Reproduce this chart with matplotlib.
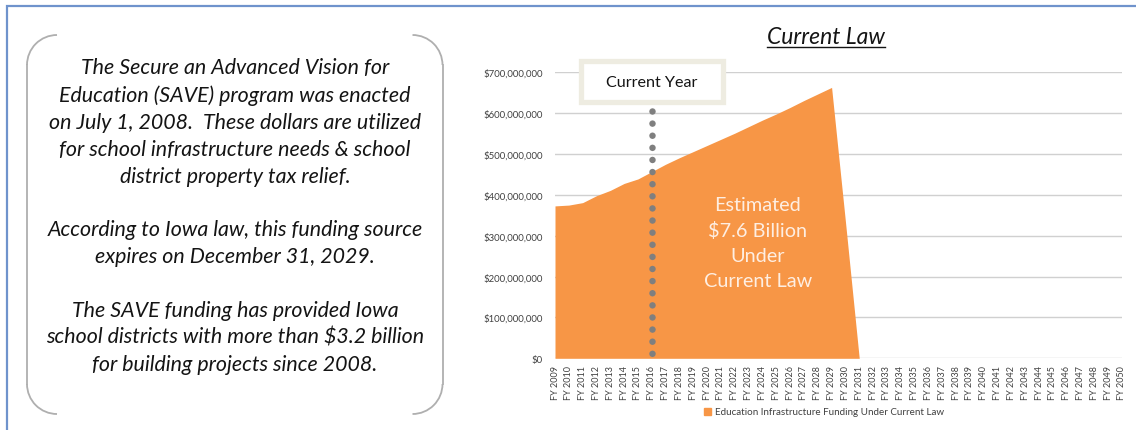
import matplotlib
matplotlib.use("Agg")
import matplotlib.pyplot as plt
import numpy as np
from matplotlib.patches import Arc, Patch, Rectangle
from matplotlib.lines import Line2D
from matplotlib.ticker import FuncFormatter

# ---------------- data ----------------
years = list(range(2009, 2051))
categories = [f"FY {y}" for y in years]
funding = [373e6, 375e6, 381e6, 398e6, 411e6, 428e6, 439e6, 457e6, 475e6,
           491e6, 506e6, 521e6, 536e6, 551e6, 567e6, 583e6, 598e6, 614e6,
           631e6, 647e6, 663e6, 335e6] + [0] * 20
current_year = "FY 2016"
current_year_top = 606e6
y_ticks = [0, 100e6, 200e6, 300e6, 400e6, 500e6, 600e6, 700e6]
series_name = "Education Infrastructure Funding Under Current Law"
chart_title = "Current Law"
area_label = "Estimated\n$7.6 Billion\nUnder\nCurrent Law"
panel_text = ("The Secure an Advanced Vision for\n"
              "Education (SAVE) program was enacted\n"
              "on July 1, 2008.  These dollars are utilized\n"
              "for school infrastructure needs & school\n"
              "district property tax relief.\n\n"
              "According to Iowa law, this funding source\n"
              "expires on December 31, 2029.\n\n"
              "The SAVE funding has provided Iowa\n"
              "school districts with more than $3.2 billion\n"
              "for building projects since 2008.")

W, H = 1136, 431
FONT = ["Lato", "DejaVu Sans"]
ORANGE = "#F79646"

fig = plt.figure(figsize=(W / 100, H / 100), dpi=100)
fig.patch.set_facecolor("white")

# ---------------- overlay for decorations (pixel coords) ----------------
ov = fig.add_axes([0, 0, 1, 1], zorder=0)
ov.set_xlim(0, W)
ov.set_ylim(H, 0)
ov.axis("off")
blue = "#6F93CC"
ov.plot([7, 7, W], [H, 7.3, 7.3], color=blue, lw=1.6, solid_joinstyle="miter")
gray = "#AFAFAF"
r = 30
lx, rx, ty, by = 27, 442.5, 36, 415
ov.add_patch(Arc((lx + r, ty + r), 2 * r, 2 * r, theta1=180, theta2=270, color=gray, lw=1.3))
ov.add_patch(Arc((lx + r, by - r), 2 * r, 2 * r, theta1=90, theta2=180, color=gray, lw=1.3))
ov.plot([lx, lx], [ty + r, by - r], color=gray, lw=1.3)
ov.add_patch(Arc((rx - r, ty + r), 2 * r, 2 * r, theta1=270, theta2=360, color=gray, lw=1.3))
ov.add_patch(Arc((rx - r, by - r), 2 * r, 2 * r, theta1=0, theta2=90, color=gray, lw=1.3))
ov.plot([rx, rx], [ty + r, by - r], color=gray, lw=1.3)

ov.text(235, 216.5, panel_text, ha="center", va="center", fontsize=15.4,
        style="italic", family=FONT, color="#141414", linespacing=1.43)

# ---------------- chart axes ----------------
x0, x1 = 555, 1122
ytop, ybot = 73.3, 359.3
ax = fig.add_axes([x0 / W, 1 - ybot / H, (x1 - x0) / W, (ybot - ytop) / H], zorder=1)
xs = np.arange(len(categories))
ax.fill_between(xs, funding, 0, color=ORANGE, lw=0, zorder=2)
ax.set_xlim(0, len(categories) - 1)
ax.set_ylim(0, 700e6)
ax.set_yticks(y_ticks)
ax.yaxis.set_major_formatter(FuncFormatter(lambda v, p: f"${v:,.0f}"))
ax.set_xticks(xs)
ax.set_xticklabels(categories, rotation=90, fontsize=6.5, family=FONT, color="#404040")
for lab in ax.get_yticklabels():
    lab.set_fontsize(6.9)
    lab.set_family(FONT)
    lab.set_color("#404040")
ax.tick_params(axis="both", length=0)
ax.tick_params(axis="y", pad=9)
ax.tick_params(axis="x", pad=5)
ax.grid(axis="y", color="#D0D0D0", lw=1.0, zorder=1)
for s in ax.spines.values():
    s.set_visible(False)
ax.set_facecolor("none")

ci = categories.index(current_year)
ax.plot([ci, ci], [current_year_top, 5e6], color="#7F7F7F", lw=4.7,
        linestyle=(0, (0.001, 1.855)), dash_capstyle="round", zorder=3)
# "Current Year" box: ~10.3 categories wide, ~100M tall, centred on the current year
box_w, box_h, box_cy = 10.3, 100e6, 677e6
ax.add_patch(Rectangle((ci - box_w / 2, box_cy - box_h / 2), box_w, box_h,
                       fc="white", ec="#EEECE1", lw=3.8, clip_on=False, zorder=4))
ax.text(ci, box_cy, "Current Year", ha="center", va="center", fontsize=11.6,
        family=FONT, color="#141414", zorder=5, clip_on=False)
ax.text(0.358, 0.405, area_label, transform=ax.transAxes, ha="center", va="center",
        fontsize=14.3, family=FONT, color="#FEEEE2", linespacing=1.57, zorder=4)

# title
t = fig.text(826 / W, 1 - 37 / H, chart_title, ha="center", va="center",
             fontsize=16.5, style="italic", family=FONT, color="#141414")
fig.canvas.draw()
bb = t.get_window_extent(fig.canvas.get_renderer())
fig.add_artist(Line2D([bb.x0 / W, bb.x1 / W], [(H - 47.5) / H] * 2, color="#141414", lw=1.0))

# legend
fig.legend(handles=[Patch(color=ORANGE, label=series_name)], loc="center",
           bbox_to_anchor=(824 / W, 1 - 413 / H), frameon=False,
           prop=dict(family=FONT, size=7.1), handlelength=0.7, handleheight=0.7,
           handletextpad=0.4, labelcolor="#404040")

fig.savefig("out.png", dpi=100, facecolor="white")
